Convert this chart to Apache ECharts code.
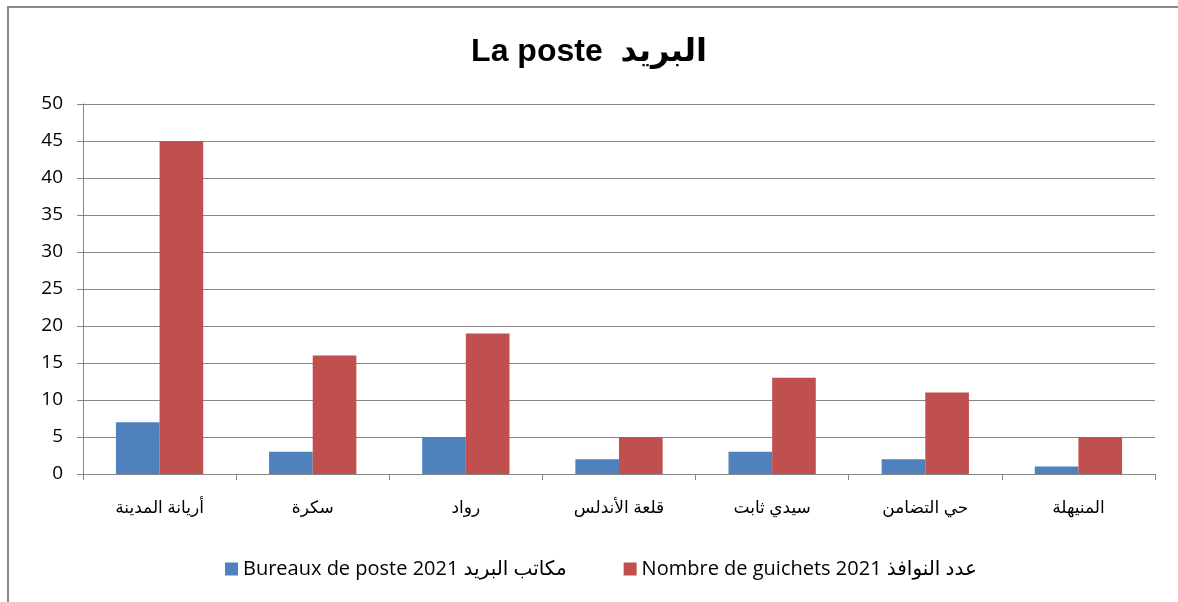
<!DOCTYPE html>
<html>
<head>
<meta charset="utf-8">
<script src="https://cdn.jsdelivr.net/npm/echarts@6/dist/echarts.min.js"></script>
<style>
html, body { margin: 0; padding: 0; background: #fff; }
#chart { width: 1178px; height: 602px; }
</style>
</head>
<body>
<div id="chart"></div>
<script>
// Delegations of Ariana and their post office counts for 2021
const categories = ['أريانة المدينة', 'سكرة', 'رواد', 'قلعة الأندلس', 'سيدي ثابت', 'حي التضامن', 'المنيهلة'];
const bureauxDePoste = [7, 3, 5, 2, 3, 2, 1];
const nombreDeGuichets = [45, 16, 19, 5, 13, 11, 5];
const seriesNames = ['Bureaux de poste 2021 مكاتب البريد', 'Nombre de guichets 2021 عدد النوافذ'];
const titleText = 'La poste  البريد';

const chart = echarts.init(document.getElementById('chart'), null, { renderer: 'canvas' });
const labelFont = '"Open Sans", "DejaVu Sans", sans-serif';

chart.setOption({
  backgroundColor: '#ffffff',
  animation: false,
  title: {
    text: titleText,
    left: 'center',
    top: 31,
    textStyle: { fontFamily: '"Liberation Sans", Arial, "DejaVu Sans", sans-serif', fontWeight: 'bold', fontSize: 32, color: '#000' }
  },
  graphic: [
    { type: 'line', shape: { x1: 8, y1: 6, x2: 8, y2: 602 }, style: { stroke: '#8a8a8a', lineWidth: 2 } },
    { type: 'line', shape: { x1: 7, y1: 7, x2: 1178, y2: 7 }, style: { stroke: '#8a8a8a', lineWidth: 2 } }
  ],
  legend: {
    top: 554,
    left: 220,
    itemGap: 57,
    itemWidth: 13,
    itemHeight: 13,
    icon: 'rect',
    textStyle: { fontFamily: labelFont, fontSize: 20, color: '#000' },
    data: seriesNames
  },
  grid: { left: 83, right: 23, top: 104, bottom: 128 },
  xAxis: {
    type: 'category',
    data: categories,
    axisLine: { lineStyle: { color: '#868686', width: 1 } },
    axisTick: { show: true, length: 6, lineStyle: { color: '#868686' } },
    axisLabel: { fontFamily: labelFont, fontSize: 17, color: '#000', margin: 26 }
  },
  yAxis: {
    type: 'value',
    min: 0,
    max: 50,
    interval: 5,
    axisLine: { show: true, lineStyle: { color: '#868686', width: 1 } },
    axisTick: { show: true, length: 6, lineStyle: { color: '#868686' } },
    splitLine: { lineStyle: { color: '#868686', width: 1 } },
    axisLabel: { fontFamily: labelFont, fontSize: 19, color: '#000', margin: 20 }
  },
  series: [
    {
      name: seriesNames[0],
      type: 'bar',
      data: bureauxDePoste,
      barGap: '0%',
      barCategoryGap: '43%',
      itemStyle: { color: '#4F81BD' }
    },
    {
      name: seriesNames[1],
      type: 'bar',
      data: nombreDeGuichets,
      itemStyle: { color: '#C0504D' }
    }
  ]
});
</script>
</body>
</html>
